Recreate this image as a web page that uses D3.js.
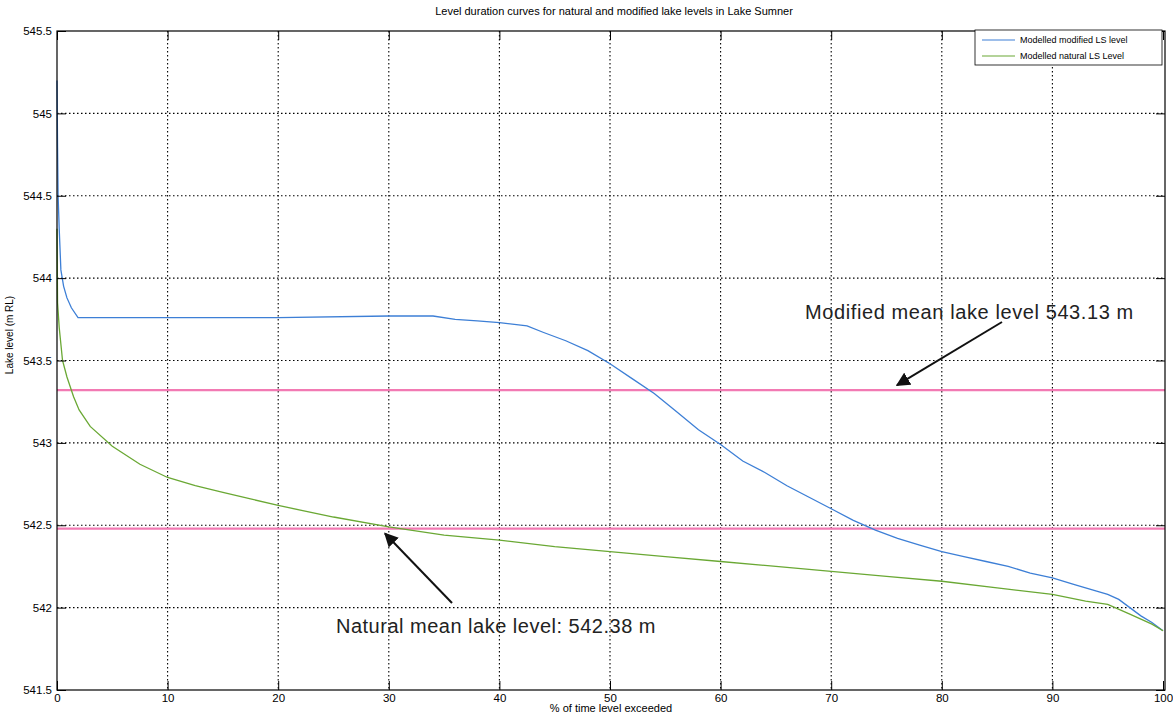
<!DOCTYPE html>
<html>
<head>
<meta charset="utf-8">
<script src="https://cdn.jsdelivr.net/npm/d3@7"></script>
<style>
  body { margin: 0; background: #fff; }
  text { font-family: "Liberation Sans", Arial, sans-serif; }
  .grid line { stroke: #000; stroke-dasharray: 1.5,2.5; stroke-width: 1.1; }
  .axis path, .axis line { stroke: #000; }
  .axis text { font-size: 11.5px; fill: #000; }
</style>
</head>
<body>
<svg id="chart"></svg>
<script>
// Canvas size
var canvasWidth = 1173;
var canvasHeight = 715;

// Plot box
var margin = {
  top: 31,
  right: 8,
  bottom: 25,
  left: 57
};

// % of time level exceeded, modified lake levels
var modifiedPct = [0, 0.05, 0.1, 0.2, 0.35, 0.6, 0.9, 1.3, 1.9, 10, 20, 30, 34, 36, 38, 40, 42.5, 44, 46, 48, 50, 52, 54, 56, 58,
  60, 62, 64, 66, 68, 70, 72, 74, 76, 78, 80, 82, 84, 86, 88, 90, 92, 94, 95, 96, 97, 98, 99, 100];
var modifiedLevel = [545.2, 544.8, 544.5, 544.3, 544.05, 543.95, 543.88, 543.82, 543.76, 543.76, 543.76, 543.77, 543.77, 543.75,
  543.74, 543.73, 543.71, 543.67, 543.62, 543.56, 543.48, 543.39, 543.3, 543.19, 543.08,
  542.99, 542.89, 542.82, 542.74, 542.67, 542.60, 542.53, 542.47, 542.42, 542.38, 542.34, 542.31, 542.28, 542.25, 542.21,
  542.18, 542.14, 542.10, 542.08, 542.05, 542.00, 541.95, 541.91, 541.86];

// % of time level exceeded, natural lake levels
var naturalPct = [0, 0.05, 0.2, 0.5, 0.9, 1.5, 2, 3, 5, 7.5, 10, 12.5, 15, 17.5, 20, 25, 30, 35, 40, 45, 50, 55, 60, 65, 70,
  75, 80, 85, 90, 93, 95, 97, 99, 100];
var naturalLevel = [544.3, 543.85, 543.7, 543.5, 543.4, 543.28, 543.2, 543.1, 542.98, 542.87, 542.79, 542.74, 542.7, 542.66,
  542.62, 542.55, 542.49, 542.44, 542.41, 542.37, 542.34, 542.31, 542.28, 542.25, 542.22, 542.19, 542.16, 542.12, 542.08,
  542.04, 542.02, 541.96, 541.90, 541.86];

// Mean level lines (as drawn) and their labels
var meanLevels = [543.32, 542.48];
var meanLabels = ['Modified mean lake level 543.13 m', 'Natural mean lake level: 542.38 m'];

// Tick values
var xTicks = [0, 10, 20, 30, 40, 50, 60, 70, 80, 90, 100];
var yTicks = [541.5, 542, 542.5, 543, 543.5, 544, 544.5, 545, 545.5];

var seriesNames = ['Modelled modified LS level', 'Modelled natural LS Level'];
var seriesColors = ['#3d7fd6', '#6aa834'];

var svg = d3.select('#chart')
  .attr('width', canvasWidth)
  .attr('height', canvasHeight);

var x = d3.scaleLinear()
  .domain([0, 100])
  .range([margin.left, canvasWidth - margin.right - 2]);

var y = d3.scaleLinear()
  .domain([541.5, 545.5])
  .range([canvasHeight - margin.bottom, margin.top]);

var x0 = margin.left, x1 = canvasWidth - margin.right;
var y0 = canvasHeight - margin.bottom, y1 = margin.top;

// Grid lines
var grid = svg.append('g').attr('class', 'grid');
grid.selectAll('.vg')
  .data(xTicks.slice(1, -1))
  .enter()
  .append('line')
  .attr('x1', function(d) { return x(d); })
  .attr('x2', function(d) { return x(d); })
  .attr('y1', y1)
  .attr('y2', y0);
grid.selectAll('.hg')
  .data(yTicks.slice(1, -1))
  .enter()
  .append('line')
  .attr('x1', x0)
  .attr('x2', x1)
  .attr('y1', function(d) { return y(d); })
  .attr('y2', function(d) { return y(d); });

// Mean lines
svg.selectAll('.mean')
  .data(meanLevels)
  .enter()
  .append('line')
  .attr('x1', x0)
  .attr('x2', x1)
  .attr('y1', function(d) { return y(d); })
  .attr('y2', function(d) { return y(d); })
  .attr('stroke', '#f27ab3')
  .attr('stroke-width', 2.2);

// Data lines
var line = d3.line()
  .x(function(d) { return x(d[0]); })
  .y(function(d) { return y(d[1]); });

var seriesData = [
  d3.zip(modifiedPct, modifiedLevel),
  d3.zip(naturalPct, naturalLevel)
];

svg.selectAll('.series')
  .data(seriesData)
  .enter()
  .append('path')
  .attr('d', line)
  .attr('fill', 'none')
  .attr('stroke', function(d, i) { return seriesColors[i]; })
  .attr('stroke-width', 1.3);

// Axes (ticks inside, matlab style)
var xAxis = d3.axisBottom(x).tickValues(xTicks).tickSize(-9).tickPadding(4)
  .tickFormat(d3.format('d'));
var yAxis = d3.axisLeft(y).tickValues(yTicks).tickSize(-9).tickPadding(5)
  .tickFormat(function(d) { return d; });

svg.append('g')
  .attr('class', 'axis')
  .attr('transform', 'translate(0,' + y0 + ')')
  .call(xAxis)
  .call(function(g) { g.select('.domain').remove(); });

svg.append('g')
  .attr('class', 'axis')
  .attr('transform', 'translate(' + x0 + ',0)')
  .call(yAxis)
  .call(function(g) { g.select('.domain').remove(); });

svg.append('g')
  .attr('class', 'axis')
  .attr('transform', 'translate(0,' + y1 + ')')
  .call(d3.axisTop(x).tickValues(xTicks).tickSize(-9).tickFormat(''))
  .call(function(g) { g.select('.domain').remove(); });

svg.append('g')
  .attr('class', 'axis')
  .attr('transform', 'translate(' + x1 + ',0)')
  .call(d3.axisRight(y).tickValues(yTicks).tickSize(-9).tickFormat(''))
  .call(function(g) { g.select('.domain').remove(); });

// Box
svg.append('rect')
  .attr('x', x0)
  .attr('y', y1)
  .attr('width', x1 - x0)
  .attr('height', y0 - y1)
  .attr('fill', 'none')
  .attr('stroke', '#000')
  .attr('stroke-width', 1.2);

// Title and labels
svg.append('text')
  .attr('x', 614)
  .attr('y', 15)
  .attr('text-anchor', 'middle')
  .style('font-size', '11px')
  .text('Level duration curves for natural and modified lake levels in Lake Sumner');

svg.append('text')
  .attr('x', (x0 + x1) / 2)
  .attr('y', 712)
  .attr('text-anchor', 'middle')
  .style('font-size', '11px')
  .text('% of time level exceeded');

svg.append('text')
  .attr('transform', 'translate(13,' + 335 + ') rotate(-90)')
  .attr('text-anchor', 'middle')
  .style('font-size', '10px')
  .text('Lake level (m RL)');

// Legend
var legend = svg.append('g');
legend.append('rect')
  .attr('x', 975)
  .attr('y', 30)
  .attr('width', 187)
  .attr('height', 35)
  .attr('fill', '#fff')
  .attr('stroke', '#000')
  .attr('stroke-width', 0.8);
seriesNames.forEach(function(name, i) {
  var ly = 40 + i * 16;
  legend.append('line')
    .attr('x1', 982).attr('x2', 1015)
    .attr('y1', ly).attr('y2', ly)
    .attr('stroke', seriesColors[i])
    .attr('stroke-width', 1.2);
  legend.append('text')
    .attr('x', 1020)
    .attr('y', ly + 3)
    .style('font-size', '9px')
    .text(name);
});

// Annotations with arrows
svg.append('defs').append('marker')
  .attr('id', 'head')
  .attr('viewBox', '0 0 10 10')
  .attr('refX', 9)
  .attr('refY', 5)
  .attr('markerWidth', 7)
  .attr('markerHeight', 7)
  .attr('orient', 'auto')
  .append('path')
  .attr('d', 'M0,0 L10,5 L0,10 z')
  .attr('fill', '#111');

svg.append('line')
  .attr('x1', 1002).attr('y1', 322)
  .attr('x2', 897).attr('y2', y(meanLevels[0]) - 5)
  .attr('stroke', '#111')
  .attr('stroke-width', 2)
  .attr('marker-end', 'url(#head)');

svg.append('line')
  .attr('x1', 452).attr('y1', 603)
  .attr('x2', 385).attr('y2', y(meanLevels[1]) + 5)
  .attr('stroke', '#111')
  .attr('stroke-width', 2)
  .attr('marker-end', 'url(#head)');

svg.append('text')
  .attr('x', 805)
  .attr('y', 319)
  .style('font-size', '20px')
  .style('letter-spacing', '0.6px')
  .style('fill', '#222')
  .text(meanLabels[0]);

svg.append('text')
  .attr('x', 336)
  .attr('y', 633)
  .style('font-size', '20px')
  .style('letter-spacing', '0.5px')
  .style('fill', '#222')
  .text(meanLabels[1]);
</script>
</body>
</html>
